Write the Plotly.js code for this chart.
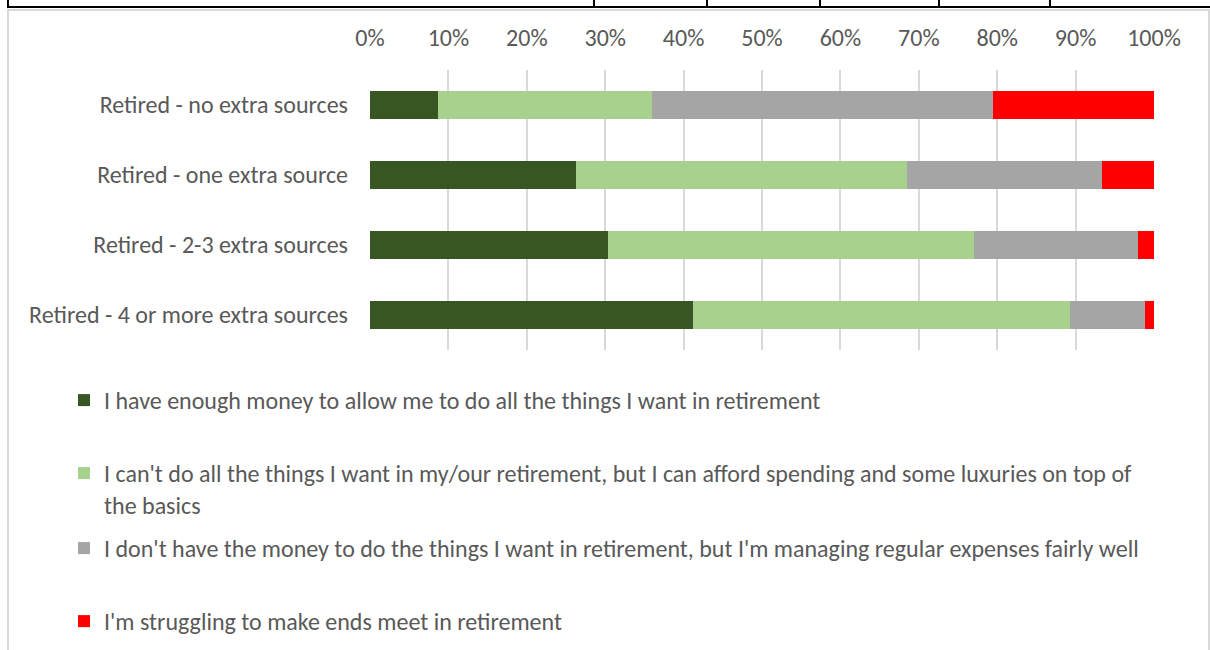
<!DOCTYPE html>
<html>
<head>
<meta charset="utf-8">
<script src="https://cdn.plot.ly/plotly-3.0.1.min.js"></script>
<style>
  html, body { margin: 0; padding: 0; width: 1210px; height: 650px; overflow: hidden; background: #ffffff; }
  .cellrow { position: absolute; left: 7px; top: 0; width: 1210px; height: 6px; border-left: 2px solid #000; border-bottom: 2px solid #000; }
  .vcell { position: absolute; top: 0; width: 0; height: 7px; border-left: 2px solid #000; }
  .chartarea { position: absolute; left: 7px; top: 9px; width: 1199px; height: 700px; border: 2px solid #d9d9d9; }
  #chart { position: absolute; left: 0; top: 0; width: 1210px; height: 650px; }
</style>
</head>
<body>
<div class="cellrow"></div>
<div class="vcell" style="left:593px"></div>
<div class="vcell" style="left:706px"></div>
<div class="vcell" style="left:819px"></div>
<div class="vcell" style="left:938px"></div>
<div class="vcell" style="left:1049px"></div>
<div class="chartarea"></div>
<div id="chart"></div>
<script>
const categories = [
  'Retired - no extra sources',
  'Retired - one extra source',
  'Retired - 2-3 extra sources',
  'Retired - 4 or more extra sources'
];
const seriesNames = [
  'I have enough money to allow me to do all the things I want in retirement',
  "I can't do all the things I want in my/our retirement, but I can afford spending and some luxuries on top of<br>the basics",
  "I don't have the money to do the things I want in retirement, but I'm managing regular expenses fairly well",
  "I'm struggling to make ends meet in retirement"
];
const enoughMoney = [8.7, 26.3, 30.3, 41.2];
const someLuxuries = [27.3, 42.2, 46.7, 48.1];
const managingExpenses = [43.5, 24.9, 21.0, 9.6];
const struggling = [20.5, 6.6, 2.0, 1.1];
const tickValues = [0, 10, 20, 30, 40, 50, 60, 70, 80, 90, 100];
const tickLabels = ['0%', '10%', '20%', '30%', '40%', '50%', '60%', '70%', '80%', '90%', '100%'];

const colors = ['#375623', '#A9D18E', '#A5A5A5', '#FF0000'];
const allValues = [enoughMoney, someLuxuries, managingExpenses, struggling];
const legendIds = ['legend', 'legend2', 'legend3', 'legend4'];

const FONT = 'Carlito, Calibri, Lato, sans-serif';
const TXT = '#595959';
const FS = 24;

const traces = allValues.map((vals, i) => ({
  type: 'bar',
  orientation: 'h',
  name: seriesNames[i],
  y: categories,
  x: vals,
  marker: { color: colors[i], line: { width: 0 } },
  legend: legendIds[i],
  hoverinfo: 'x+y+name'
}));

// top edge of each legend entry (container pixels)
const legendTops = [378, 451, 526, 599];
const legendBase = {
  xref: 'container', yref: 'container',
  x: 64 / 1210, xanchor: 'left', yanchor: 'top',
  orientation: 'v', bgcolor: 'rgba(0,0,0,0)', borderwidth: 0,
  valign: 'top',
  font: { family: FONT, size: FS, color: TXT }
};
const layout = {
  width: 1210, height: 650,
  paper_bgcolor: 'rgba(0,0,0,0)',
  plot_bgcolor: 'rgba(0,0,0,0)',
  margin: { l: 370, r: 56, t: 70, b: 300, autoexpand: false },
  barmode: 'stack',
  bargap: 0.6,
  font: { family: FONT, size: FS, color: TXT },
  xaxis: {
    side: 'top',
    range: [0, 100],
    tickvals: tickValues,
    ticktext: tickLabels,
    showgrid: true, gridcolor: '#d9d9d9', gridwidth: 2,
    zeroline: false, showline: false, ticks: '',
    ticklabelstandoff: 18,
    automargin: false,
    tickfont: { family: FONT, size: FS, color: TXT },
    fixedrange: true
  },
  yaxis: {
    type: 'category',
    autorange: 'reversed',
    showgrid: false, zeroline: false, showline: false, ticks: '',
    ticklabelstandoff: 21,
    automargin: false,
    tickfont: { family: FONT, size: FS, color: TXT },
    fixedrange: true
  },
  showlegend: true
};
legendIds.forEach((id, i) => {
  layout[id] = Object.assign({}, legendBase, { y: 1 - legendTops[i] / 650 });
});

Plotly.newPlot('chart', traces, layout, { displayModeBar: false, staticPlot: true });
</script>
</body>
</html>
